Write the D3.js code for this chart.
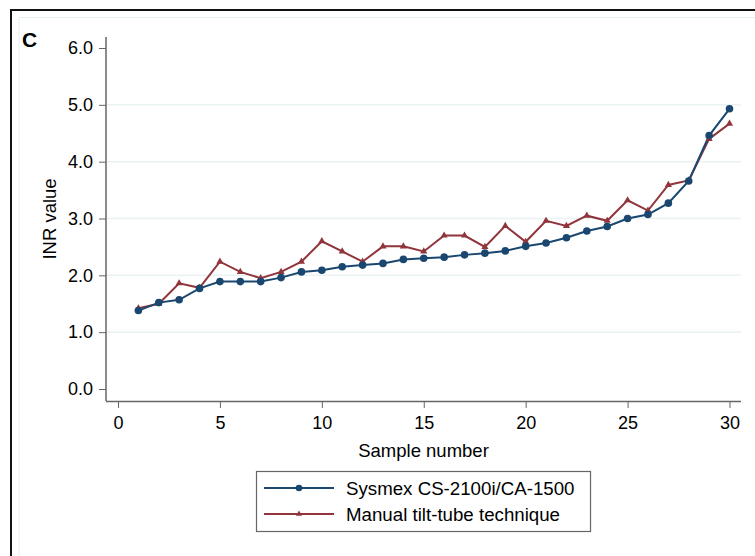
<!DOCTYPE html>
<html>
<head>
<meta charset="utf-8">
<script src="https://cdn.jsdelivr.net/npm/d3@7"></script>
<style>
body { margin:0; background:#fff; }
svg { display:block; font-family:"Liberation Sans", Arial, sans-serif; }
</style>
</head>
<body>
<svg width="755" height="556"></svg>
<script>
// sample numbers and INR values
const samples = d3.range(1, 31)
const sysmex = [1.38,1.52,1.57,1.77,1.89,1.89,1.89,1.96,2.06,2.09,2.15,2.18,2.21,2.28,2.30,
                2.32,2.36,2.39,2.43,2.51,2.57,2.66,2.78,2.86,3.00,3.07,3.27,3.66,4.46,4.93]
const manual = [1.42,1.50,1.86,1.78,2.24,2.06,1.95,2.06,2.24,2.60,2.42,2.24,2.51,2.51,2.42,
                2.70,2.70,2.50,2.87,2.59,2.96,2.87,3.05,2.96,3.32,3.14,3.59,3.67,4.40,4.67]
const xTicks = [0,5,10,15,20,25,30]
const yTicks = [0,1,2,3,4,5,6]
const gridTicks = [1,2,3,4,5]
const seriesNames = ["Sysmex CS-2100i/CA-1500", "Manual tilt-tube technique"]

const navy = "#1a476f", maroon = "#90353b"
const svg = d3.select("svg")

// frames
svg.append("rect").attr("x",11).attr("y",10).attr("width",800).attr("height",600)
    .attr("fill","none").attr("stroke","#111").attr("stroke-width",2)
svg.append("rect").attr("x",19).attr("y",17.5).attr("width",800).attr("height",600)
    .attr("fill","none").attr("stroke","#e8eff2").attr("stroke-width",1)

svg.append("text").attr("x",22).attr("y",47).text("C")
    .style("font-weight","bold").style("font-size","21px").attr("fill","#000")

const plot = {left:106, right:741, top:37, bottom:401}
const x = d3.scaleLinear().domain([0,30]).range([118,729.5])
const y = d3.scaleLinear().domain([0,6]).range([389,48])

// gridlines
svg.append("g").selectAll("line").data(gridTicks).join("line")
    .attr("x1",plot.left).attr("x2",plot.right)
    .attr("y1",d=>y(d)).attr("y2",d=>y(d))
    .attr("stroke","#eaf2f3").attr("stroke-width",1.5)

// axes
const gx = svg.append("g").attr("transform","translate(0,"+plot.bottom+")")
    .call(d3.axisBottom(x).tickValues(xTicks).tickSize(7).tickPadding(8))
gx.select(".domain").remove()
const gy = svg.append("g").attr("transform","translate("+plot.left+",0)")
    .call(d3.axisLeft(y).tickValues(yTicks).tickSize(7).tickPadding(6).tickFormat(d3.format(".1f")))
gy.select(".domain").remove()
svg.selectAll(".tick line").attr("stroke","#666")
svg.selectAll(".tick text").style("font-size","18px").attr("fill","#000")
    .style("font-family","'Liberation Sans', Arial, sans-serif")

svg.append("line").attr("x1",plot.left).attr("x2",plot.right)
    .attr("y1",plot.bottom+0.5).attr("y2",plot.bottom+0.5).attr("stroke","#666").attr("stroke-width",1.5)
svg.append("line").attr("x1",plot.left).attr("x2",plot.left)
    .attr("y1",plot.top).attr("y2",plot.bottom).attr("stroke","#666").attr("stroke-width",1.5)

svg.append("text").attr("x",(plot.left+plot.right)/2).attr("y",457)
    .attr("text-anchor","middle").style("font-size","18.5px").attr("fill","#000").text("Sample number")
svg.append("text").attr("transform","translate(56,219) rotate(-90)")
    .attr("text-anchor","middle").style("font-size","18.5px").attr("fill","#000").text("INR value")

// series
const line = d3.line().x((d,i)=>x(samples[i])).y(d=>y(d))
svg.append("path").attr("d",line(manual)).attr("fill","none").attr("stroke",maroon).attr("stroke-width",2)
svg.append("path").attr("d",line(sysmex)).attr("fill","none").attr("stroke",navy).attr("stroke-width",2)

const tri = d3.symbol().type(d3.symbolTriangle).size(22)
svg.append("g").selectAll("path").data(manual).join("path")
    .attr("transform",(d,i)=>"translate("+x(samples[i])+","+y(d)+")")
    .attr("d",tri).attr("fill",maroon)
svg.append("g").selectAll("circle").data(sysmex).join("circle")
    .attr("cx",(d,i)=>x(samples[i])).attr("cy",d=>y(d)).attr("r",3.8).attr("fill",navy)

// legend
const lg = svg.append("g")
const box = lg.append("rect").attr("x",256.5).attr("y",471.5).attr("height",60)
    .attr("fill","#fff").attr("stroke","#666").attr("stroke-width",1.2)
const entries = [{name:seriesNames[0], color:navy, ty:495, ly:488},
                 {name:seriesNames[1], color:maroon, ty:521, ly:514}]
let maxW = 0
entries.forEach((e,i)=>{
    lg.append("line").attr("x1",264).attr("x2",334).attr("y1",e.ly).attr("y2",e.ly)
        .attr("stroke",e.color).attr("stroke-width",2)
    if(i==0) lg.append("circle").attr("cx",299).attr("cy",e.ly).attr("r",3.3).attr("fill",e.color)
    else lg.append("path").attr("transform","translate(299,"+e.ly+")")
        .attr("d",d3.symbol().type(d3.symbolTriangle).size(16)).attr("fill",e.color)
    const t = lg.append("text").attr("x",346).attr("y",e.ty).style("font-size","18.7px")
        .attr("fill","#000").text(e.name)
    maxW = Math.max(maxW, t.node().getComputedTextLength())
})
box.attr("width", 346 + maxW + 16 - 256.5)
</script>
</body>
</html>
